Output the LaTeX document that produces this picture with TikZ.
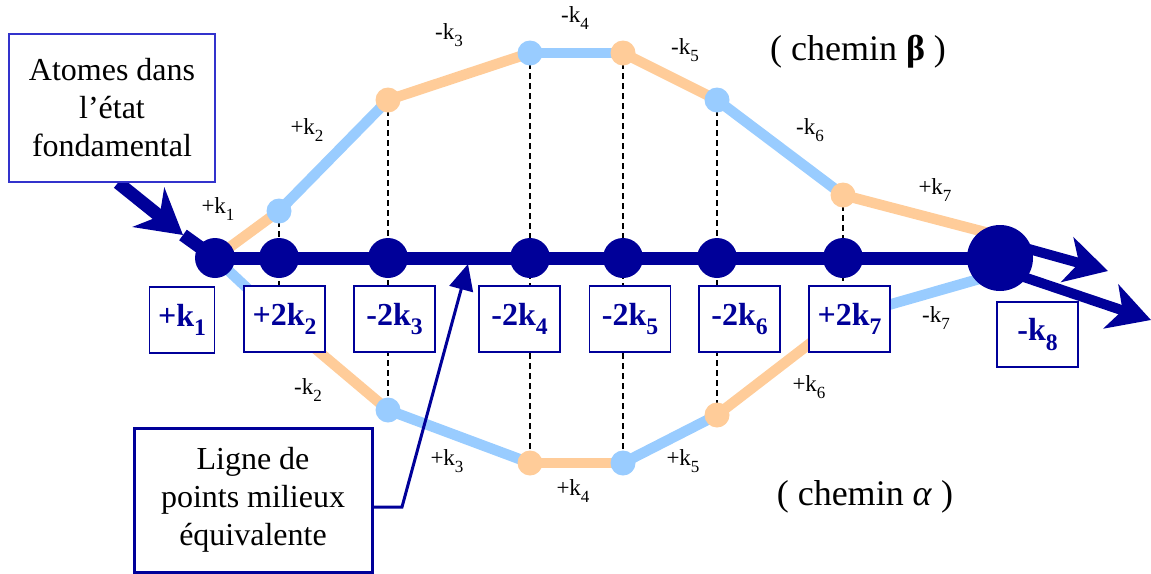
\documentclass[tikz,border=0pt]{standalone}
\usepackage{fontspec}
\setmainfont{Liberation Serif}
\usetikzlibrary{arrows.meta}
\definecolor{dkblue}{HTML}{000099}
\definecolor{ltblue}{HTML}{99CCFF}
\definecolor{peach}{HTML}{FFCC99}
\definecolor{boxblue}{HTML}{3333CC}
\newcommand\sbs[1]{\raisebox{-0.3em}{\scalebox{0.74}{#1}}}
\pgfdeclarelayer{dashl}
\pgfdeclarelayer{coll}
\pgfdeclarelayer{mainl}
\pgfsetlayers{dashl,coll,mainl,main}
\begin{document}
\begin{tikzpicture}[x=1pt,y=-1pt,
  mdot/.style={circle,fill=dkblue,inner sep=0pt,minimum size=40pt},
  hdot/.style={circle,fill=dkblue,inner sep=0pt,minimum size=66pt},
  bdot/.style={circle,fill=ltblue,inner sep=0pt,minimum size=25pt},
  odot/.style={circle,fill=peach,inner sep=0pt,minimum size=25pt},
  bseg/.style={draw=ltblue,line width=10.5pt},
  oseg/.style={draw=peach,line width=10.5pt},
  vdash/.style={draw=black,line width=1.6pt,dash pattern=on 6pt off 4pt},
  mline/.style={draw=dkblue,line width=13pt},
  kbox/.style={draw=dkblue,line width=1.8pt,fill=white,text=dkblue,minimum height=66pt,inner sep=0pt,font=\fontsize{32}{32}\selectfont\bfseries},
  klab/.style={inner sep=0pt,font=\fontsize{23}{23}\selectfont},
  bigarrow/.style={draw=dkblue,line width=10pt,-{Stealth[length=42pt,width=46pt,inset=12pt]}},
]
\useasboundingbox (0,0) rectangle (1151,573);

% main dots
\node[mdot] (m1) at (215,258) {};
\node[mdot] (m2) at (279,258) {};
\node[mdot] (m3) at (388,258) {};
\node[mdot] (m4) at (530,258) {};
\node[mdot] (m5) at (623,258) {};
\node[mdot] (m6) at (717,258) {};
\node[mdot] (m7) at (843,258) {};
\node[hdot] (mend) at (1000,258) {};

% upper path (beta)
\node[bdot] (u2) at (279,211) {};
\node[odot] (u3) at (388,100) {};
\node[bdot] (u4) at (530,53) {};
\node[odot] (u5) at (623,53) {};
\node[bdot] (u6) at (717,100) {};
\node[odot] (u7) at (843,195) {};
\coordinate (eu) at (1000,236);

% lower path (alpha)
\coordinate (l2) at (279,318);
\node[bdot] (l3) at (388,410) {};
\node[odot] (l4) at (530,463) {};
\node[bdot] (l5) at (623,463) {};
\node[odot] (l6) at (717,415) {};
\coordinate (l7) at (843,318);
\coordinate (el) at (1000,273);

\begin{pgfonlayer}{dashl}
\draw[vdash] (u2.center) -- (l2);
\draw[vdash] (u3.center) -- (l3.center);
\draw[vdash] (u4.center) -- (l4.center);
\draw[vdash] (u5.center) -- (l5.center);
\draw[vdash] (u6.center) -- (l6.center);
\draw[vdash] (u7.center) -- (l7);
\end{pgfonlayer}

\begin{pgfonlayer}{coll}
\draw[oseg] (m1.center) -- (u2.center);
\draw[bseg] (u2.center) -- (u3.center);
\draw[oseg] (u3.center) -- (u4.center);
\draw[bseg] (u4.center) -- (u5.center);
\draw[oseg] (u5.center) -- (u6.center);
\draw[bseg] (u6.center) -- (u7.center);
\draw[oseg] (u7.center) -- (eu);
\draw[bseg] (m1.center) -- (l2);
\draw[oseg] (l2) -- (l3.center);
\draw[bseg] (l3.center) -- (l4.center);
\draw[oseg] (l4.center) -- (l5.center);
\draw[bseg] (l5.center) -- (l6.center);
\draw[oseg] (l6.center) -- (l7);
\draw[bseg] (l7) -- (el);
\end{pgfonlayer}

% boxes
\node[kbox,minimum width=65pt] (b1) at (182,320) {+k\sbs{1}};
\node[kbox,minimum width=81pt] (b2) at (284.5,319) {+2k\sbs{2}};
\node[kbox,minimum width=81pt] (b3) at (394.5,319) {-2k\sbs{3}};
\node[kbox,minimum width=81pt] (b4) at (519.5,319) {-2k\sbs{4}};
\node[kbox,minimum width=81pt] (b5) at (630,319) {-2k\sbs{5}};
\node[kbox,minimum width=81pt] (b6) at (739.5,319) {-2k\sbs{6}};
\node[kbox,minimum width=81pt] (b7) at (849.5,319) {+2k\sbs{7}};
\node[kbox,minimum width=81pt,minimum height=65pt] (b8) at (1037.5,334.5) {-k\sbs{8}};

% start box
\node[draw=boxblue,line width=1.5pt,fill=white,minimum width=206pt,minimum height=148pt,inner sep=0pt,align=center,font=\fontsize{32}{38}\selectfont] (atom) at (112,108) {Atomes dans\\l’état\\fondamental};

% ligne box
\node[draw=dkblue,line width=3pt,fill=white,minimum width=238pt,minimum height=144pt,inner sep=0pt,align=center,font=\fontsize{32}{38}\selectfont] (ligne) at (253,500) {Ligne de\\points milieux\\équivalente};

\begin{pgfonlayer}{mainl}
\draw[mline] (m1.center) -- (mend.center);
\coordinate (amid) at (183,235);
\draw[draw=dkblue,line width=13pt,-{Stealth[length=44pt,width=50pt,inset=14pt]}] ([xshift=6pt]atom.south) -- (amid);
\draw[draw=dkblue,line width=13pt] (amid) -- (m1.center);
\end{pgfonlayer}

% exit arrows
\coordinate (ra1) at (1000,241);
\coordinate (ra1e) at (1108,271);
\coordinate (ra2) at (1000,269);
\coordinate (ra2e) at (1151,320);
\draw[bigarrow] (ra1) -- (ra1e);
\draw[bigarrow] (ra2) -- (ra2e);

% ligne arrow
\coordinate (lc) at (402,507);
\coordinate (lt) at (468,264);
\draw[draw=dkblue,line width=3pt,-{Triangle[length=26pt,width=24pt]}] (ligne.east |- lc) -- (lc) -- (lt);

% labels
\node[klab] (t1) at (218,209) {+k\sbs{1}};
\node[klab] (t2) at (307,130) {+k\sbs{2}};
\node[klab] (t3) at (449,35) {-k\sbs{3}};
\node[klab] (t4) at (575,18) {-k\sbs{4}};
\node[klab] (t5) at (685,50) {-k\sbs{5}};
\node[klab] (t6) at (810,130) {-k\sbs{6}};
\node[klab] (t7) at (935,190) {+k\sbs{7}};
\node[klab] (s7) at (936,318) {-k\sbs{7}};
\node[klab] (s6) at (809,387) {+k\sbs{6}};
\node[klab] (s5) at (683,461) {+k\sbs{5}};
\node[klab] (s4) at (573,491) {+k\sbs{4}};
\node[klab] (s3) at (447,461) {+k\sbs{3}};
\node[klab] (s2) at (308,390) {-k\sbs{2}};

\node[inner sep=0pt,font=\fontsize{36}{36}\selectfont] (cb) at (858,52) {( chemin \textbf{β} )};
\node[inner sep=0pt,font=\fontsize{36}{36}\selectfont] (ca) at (865,497) {( chemin \textit{α} )};
\end{tikzpicture}
\end{document}
